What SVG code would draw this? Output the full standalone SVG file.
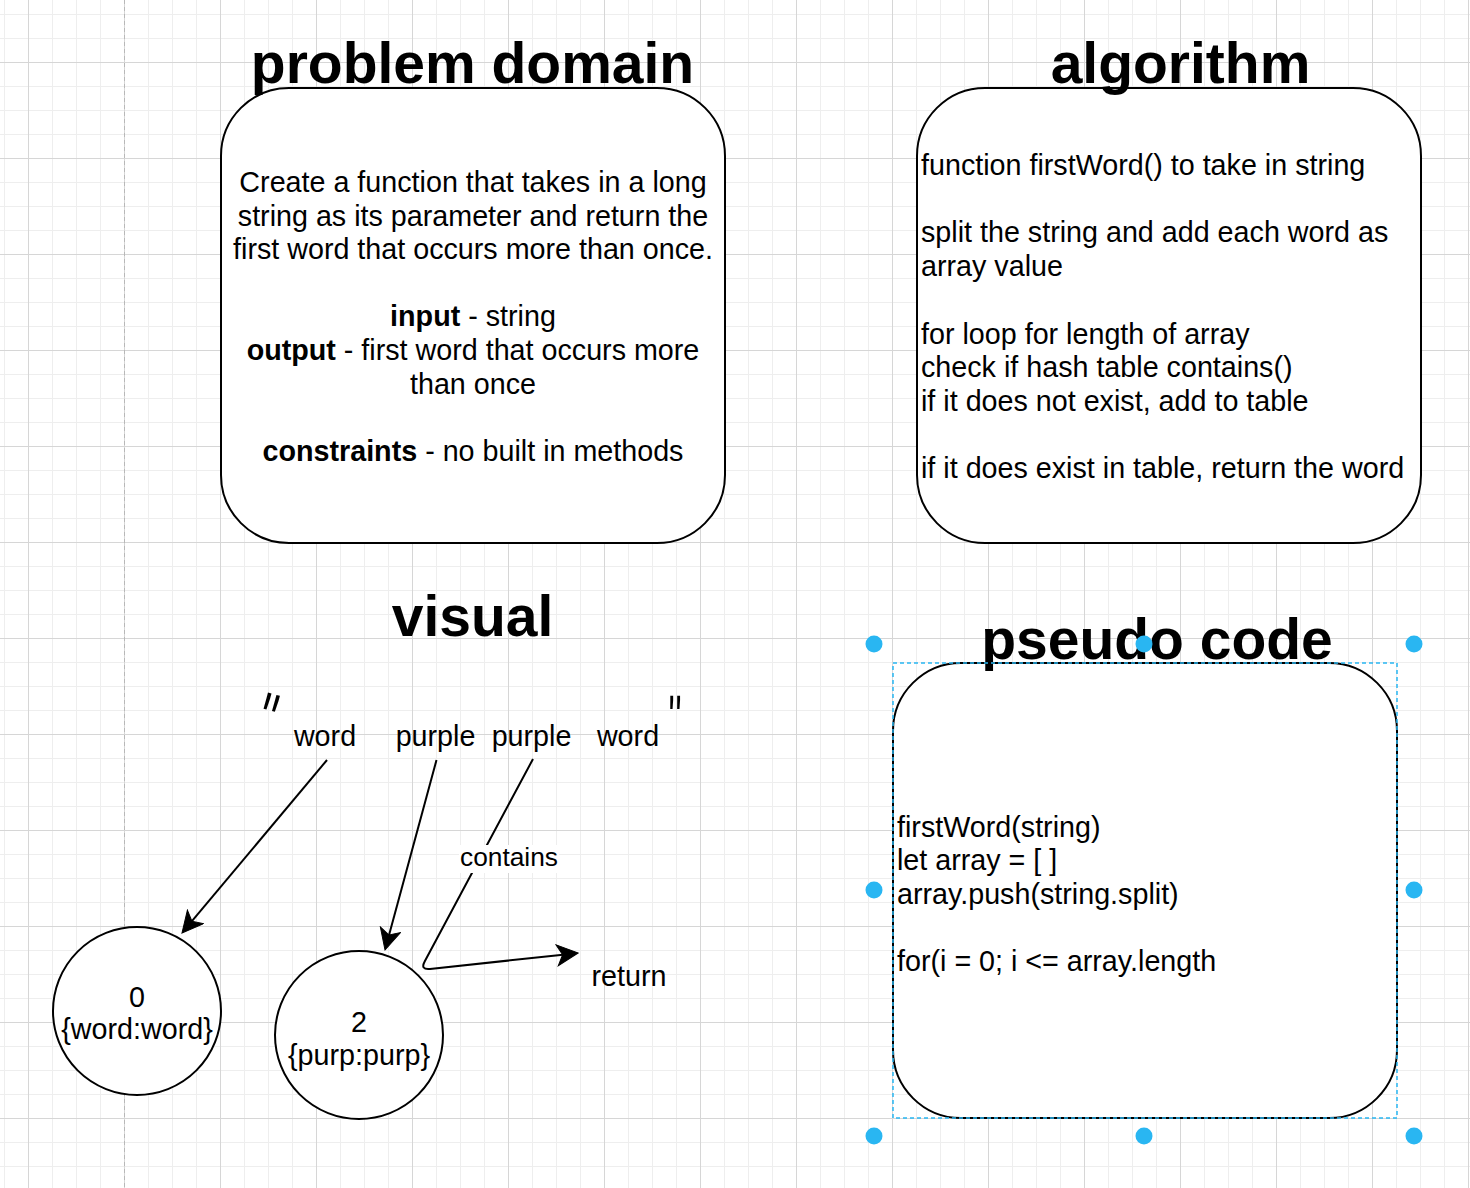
<svg xmlns="http://www.w3.org/2000/svg" width="1470" height="1188" viewBox="0 0 1470 1188">
  <style>
    text { font-family: "Liberation Sans", Arial, Helvetica, sans-serif; fill: #000000; }
    .title { font-size: 57px; font-weight: bold; text-anchor: middle; }
    .body { font-size: 28.7px; }
    .mid { text-anchor: middle; }
    .b { font-weight: bold; }
    .quote { font-family: Roboto, "Liberation Sans", sans-serif; font-weight: 300; }
    .shape { fill: #ffffff; stroke: #000000; stroke-width: 2; }
    .edge { fill: none; stroke: #000000; stroke-width: 2; stroke-linejoin: round; }
    .handle { fill: #29b6f2; }
  </style>
  <defs>
    <pattern id="minorGrid" x="4" y="14" width="24" height="24" patternUnits="userSpaceOnUse">
      <path d="M0.5 0V24M0 0.5H24" stroke="#eeeeee" stroke-width="1" fill="none"/>
    </pattern>
    <pattern id="majorGrid" x="28" y="62" width="96" height="96" patternUnits="userSpaceOnUse">
      <path d="M0.5 0V96M0 0.5H96" stroke="#d6d6d6" stroke-width="1" fill="none"/>
    </pattern>
    <marker id="arrow" markerUnits="userSpaceOnUse" markerWidth="24" markerHeight="24" refX="14" refY="11" orient="auto">
      <path d="M22,11 L1,0.5 L6.5,11 L1,21.5 Z" fill="#000000" stroke="#000000" stroke-width="1" stroke-linejoin="miter"/>
    </marker>
  </defs>

  <!-- background and grid -->
  <rect x="0" y="0" width="1470" height="1188" fill="#ffffff"/>
  <rect x="0" y="0" width="1470" height="1188" fill="url(#minorGrid)"/>
  <rect x="0" y="0" width="1470" height="1188" fill="url(#majorGrid)"/>
  <line x1="124.5" y1="0" x2="124.5" y2="1188" stroke="#b8b8b8" stroke-width="1" stroke-dasharray="4 3"/>

  <!-- problem domain -->
  <g id="problem-domain-box">
    <rect class="shape" x="221" y="88" width="504" height="455" rx="68" ry="68"/>
    <text class="body mid" x="473" y="192.2">Create a function that takes in a long</text>
    <text class="body mid" x="473" y="225.7">string as its parameter and return the</text>
    <text class="body mid" x="473" y="259.3">first word that occurs more than once.</text>
    <text class="body mid" x="473" y="326.4"><tspan class="b">input</tspan> - string</text>
    <text class="body mid" x="473" y="359.9"><tspan class="b">output</tspan> - first word that occurs more</text>
    <text class="body mid" x="473" y="393.5">than once</text>
    <text class="body mid" x="473" y="460.5"><tspan class="b">constraints</tspan> - no built in methods</text>
  </g>
  <g id="problem-domain-title">
    <text class="title" x="472.5" y="83">problem domain</text>
  </g>

  <!-- algorithm -->
  <g id="algorithm-box">
    <rect class="shape" x="917" y="88" width="504" height="455" rx="68" ry="68"/>
    <text class="body" x="921" y="175">function firstWord() to take in string</text>
    <text class="body" x="921" y="242.4">split the string and add each word as</text>
    <text class="body" x="921" y="276.1">array value</text>
    <text class="body" x="921" y="343.5">for loop for length of array</text>
    <text class="body" x="921" y="377.2">check if hash table contains()</text>
    <text class="body" x="921" y="410.9">if it does not exist, add to table</text>
    <text class="body" x="921" y="478.3">if it does exist in table, return the word</text>
  </g>
  <g id="algorithm-title">
    <text class="title" x="1180.5" y="83">algorithm</text>
  </g>

  <!-- visual -->
  <g id="visual-title">
    <text class="title" x="472.5" y="636">visual</text>
  </g>
  <g id="quote-open">
    <text class="quote" x="259" y="751" style="font-size:76px" transform="rotate(15 272 707)">"</text>
  </g>
  <g id="label-word-1"><text class="body mid" x="325" y="746">word</text></g>
  <g id="label-purple-1"><text class="body mid" x="435.5" y="746">purple</text></g>
  <g id="label-purple-2"><text class="body mid" x="531.5" y="746">purple</text></g>
  <g id="label-word-2"><text class="body mid" x="628" y="746">word</text></g>
  <g id="quote-close">
    <text class="quote" x="666" y="740" style="font-size:60px">"</text>
  </g>

  <g id="circle-word">
    <circle class="shape" cx="137" cy="1011" r="84"/>
    <text class="body mid" x="137" y="1006.5">0</text>
    <text class="body mid" x="137" y="1038.5">{word:word}</text>
  </g>
  <g id="circle-purp">
    <circle class="shape" cx="359" cy="1035" r="84"/>
    <text class="body mid" x="359" y="1031.5">2</text>
    <text class="body mid" x="359" y="1064.5">{purp:purp}</text>
  </g>
  <g id="label-return">
    <text class="body mid" x="629" y="986">return</text>
  </g>

  <!-- connectors -->
  <g id="connectors">
    <path class="edge" d="M327,760 L187.1,926.9" marker-end="url(#arrow)"/>
    <path class="edge" d="M436.5,760 L387.1,942.3" marker-end="url(#arrow)"/>
    <path class="edge" d="M533,759 L424.8,961.2 Q420,970 430,969 L570.1,953.9" marker-end="url(#arrow)"/>
    <g id="label-contains">
      <rect x="459" y="845" width="100" height="28" fill="#ffffff"/>
      <text class="mid" x="509" y="866" style="font-size:26.3px">contains</text>
    </g>
  </g>

  <!-- pseudo code -->
  <g id="pseudo-code-box">
    <rect class="shape" x="893" y="663" width="504" height="455" rx="68" ry="68"/>
    <text class="body" x="897" y="836.5">firstWord(string)</text>
    <text class="body" x="897" y="870">let array = [ ]</text>
    <text class="body" x="897" y="903.5">array.push(string.split)</text>
    <text class="body" x="897" y="970.5">for(i = 0; i &lt;= array.length</text>
  </g>
  <g id="pseudo-code-title">
    <text class="title" x="1157" y="659">pseudo code</text>
  </g>

  <!-- selection overlay -->
  <g id="selection">
    <rect x="893" y="663" width="504" height="455" fill="none" stroke="#29b6f2" stroke-width="1.5" stroke-dasharray="4 3"/>
    <circle class="handle" cx="874" cy="644" r="8.5"/>
    <circle class="handle" cx="1144" cy="644" r="8.5"/>
    <circle class="handle" cx="1414" cy="644" r="8.5"/>
    <circle class="handle" cx="874" cy="890" r="8.5"/>
    <circle class="handle" cx="1414" cy="890" r="8.5"/>
    <circle class="handle" cx="874" cy="1136" r="8.5"/>
    <circle class="handle" cx="1144" cy="1136" r="8.5"/>
    <circle class="handle" cx="1414" cy="1136" r="8.5"/>
  </g>
</svg>
